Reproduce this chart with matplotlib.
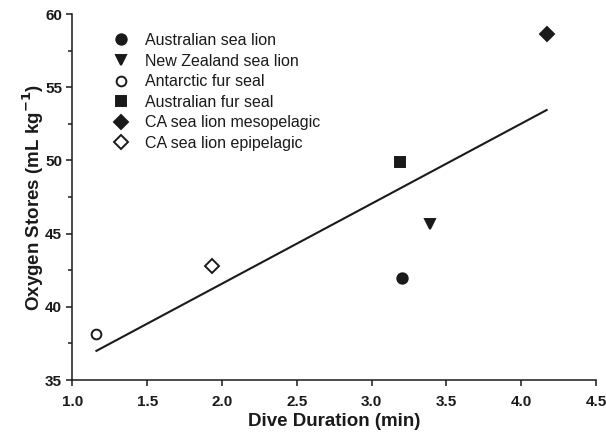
import numpy as np
import matplotlib
matplotlib.use("Agg")
import matplotlib.pyplot as plt
from matplotlib.ticker import MultipleLocator

plt.rcParams['font.family'] = ['Liberation Sans', 'DejaVu Sans']

species = ["Australian sea lion", "New Zealand sea lion", "Antarctic fur seal",
           "Australian fur seal", "CA sea lion mesopelagic", "CA sea lion epipelagic"]
dive_duration = [3.20, 3.39, 1.16, 3.19, 4.17, 1.93]
oxygen_stores = [41.95, 45.65, 38.15, 49.9, 58.63, 42.76]
markers = ["o", "v", "o", "s", "D", "D"]
filled = [True, True, False, True, True, False]
sizes = [7.5, 7.5, 7.0, 6.5, 7.0, 7.0]

xticks = [1.0, 1.5, 2.0, 2.5, 3.0, 3.5, 4.0, 4.5]
yticks = [35, 40, 45, 50, 55, 60]

ink = "#1a1a1a"

fig = plt.figure(figsize=(6.06, 4.34), dpi=100)
ax = fig.add_axes([0.1196, 0.1244, 0.8639, 0.8433])

for name, x, y, m, f, s in zip(species, dive_duration, oxygen_stores, markers, filled, sizes):
    ax.plot([x], [y], linestyle="none", marker=m, markersize=s,
            markerfacecolor=ink if f else "white", markeredgecolor=ink,
            markeredgewidth=1.4, label=name, clip_on=False)

# linear regression line across the data range
xs = np.array(dive_duration)
ys = np.array(oxygen_stores)
slope, intercept = np.polyfit(xs, ys, 1)
xl = np.array([xs.min(), xs.max()])
ax.plot(xl, slope * xl + intercept, color=ink, linewidth=1.5, zorder=1)

ax.set_xlim(1.0, 4.5)
ax.set_ylim(35, 60)
ax.set_xticks(xticks)
ax.set_yticks(yticks)
ax.set_xticklabels([f"{t:.1f}" for t in xticks])
ax.set_yticklabels([str(t) for t in yticks])
ax.yaxis.set_minor_locator(MultipleLocator(2.5))

for sp in ["top", "right"]:
    ax.spines[sp].set_visible(False)
for sp in ["left", "bottom"]:
    ax.spines[sp].set_linewidth(1.1)
    ax.spines[sp].set_color(ink)

ax.tick_params(axis="both", which="major", direction="out", length=4.5, width=1.1, color=ink,
               labelsize=11, labelcolor=ink)
ax.tick_params(axis="x", pad=6)
ax.tick_params(axis="y", pad=3)
ax.tick_params(axis="y", which="minor", direction="out", length=3, width=1.1, color=ink)
for lab in ax.get_xticklabels() + ax.get_yticklabels():
    lab.set_fontweight("bold")

ax.set_xlabel("Dive Duration (min)", fontsize=13.5, fontweight="bold", color=ink, labelpad=3)
ax.set_ylabel(r"Oxygen Stores (mL kg$^{\mathbf{-1}}$)", fontsize=13.5, fontweight="bold", color=ink, labelpad=-1)

leg = ax.legend(loc="upper left", bbox_to_anchor=(0.077, 0.948), frameon=False,
                fontsize=11.5, numpoints=1, handlelength=1.0, handletextpad=1.0,
                labelspacing=0.35, borderpad=0, borderaxespad=0)
for t in leg.get_texts():
    t.set_color(ink)

fig.savefig("out.png", dpi=100)
